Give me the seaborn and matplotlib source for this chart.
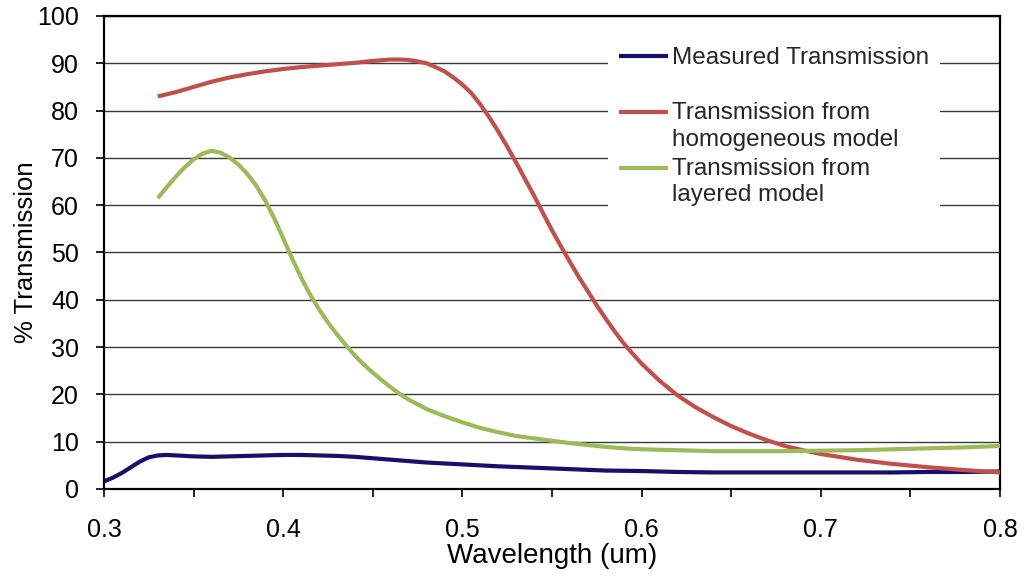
import numpy as np
import pandas as pd
import matplotlib
matplotlib.use("Agg")
import matplotlib.pyplot as plt
import seaborn as sns
from matplotlib.legend_handler import HandlerLine2D
from matplotlib.ticker import MultipleLocator

# ---- data ----
measured_x = [0.300, 0.305, 0.310, 0.315, 0.320, 0.325, 0.330, 0.335, 0.340, 0.350,
              0.360, 0.370, 0.380, 0.390, 0.400, 0.410, 0.420, 0.430, 0.440, 0.450,
              0.460, 0.470, 0.480, 0.490, 0.500, 0.520, 0.540, 0.560, 0.580, 0.600,
              0.620, 0.640, 0.660, 0.680, 0.700, 0.720, 0.740, 0.760, 0.780, 0.800]
measured_y = [1.6, 2.4, 3.4, 4.6, 5.8, 6.7, 7.1, 7.2, 7.1, 6.9,
              6.8, 6.9, 7.0, 7.1, 7.2, 7.2, 7.1, 7.0, 6.8, 6.5,
              6.2, 5.9, 5.6, 5.4, 5.2, 4.8, 4.5, 4.2, 3.9, 3.8,
              3.6, 3.5, 3.5, 3.5, 3.5, 3.5, 3.5, 3.6, 3.6, 3.7]

homog_x = [0.330, 0.340, 0.350, 0.360, 0.370, 0.380, 0.390, 0.400, 0.410, 0.420,
           0.430, 0.440, 0.450, 0.460, 0.465, 0.470, 0.475, 0.480, 0.485, 0.490,
           0.495, 0.500, 0.505, 0.510, 0.515, 0.520, 0.525, 0.530, 0.535, 0.540,
           0.545, 0.550, 0.555, 0.560, 0.565, 0.570, 0.575, 0.580, 0.585, 0.590,
           0.595, 0.600, 0.610, 0.620, 0.630, 0.640, 0.650, 0.660, 0.670, 0.680,
           0.690, 0.700, 0.710, 0.720, 0.740, 0.760, 0.780, 0.800]
homog_y = [83.0, 83.9, 85.0, 86.1, 87.0, 87.7, 88.3, 88.8, 89.2, 89.5,
           89.8, 90.1, 90.5, 90.8, 90.8, 90.7, 90.4, 90.0, 89.2, 88.3,
           87.0, 85.5, 83.7, 81.3, 78.6, 75.6, 72.4, 69.0, 65.5, 62.0,
           58.3, 54.7, 51.3, 48.0, 44.8, 41.8, 38.8, 36.0, 33.3, 30.8,
           28.6, 26.5, 22.9, 19.8, 17.3, 15.2, 13.3, 11.7, 10.3, 9.1,
           8.2, 7.4, 6.8, 6.2, 5.3, 4.6, 4.0, 3.5]

layered_x = [0.330, 0.335, 0.340, 0.345, 0.350, 0.355, 0.360, 0.365, 0.370, 0.375,
             0.380, 0.385, 0.390, 0.395, 0.400, 0.405, 0.410, 0.415, 0.420, 0.425,
             0.430, 0.435, 0.440, 0.445, 0.450, 0.455, 0.460, 0.465, 0.470, 0.480,
             0.490, 0.500, 0.510, 0.520, 0.530, 0.540, 0.550, 0.560, 0.570, 0.580,
             0.590, 0.600, 0.620, 0.640, 0.660, 0.680, 0.700, 0.720, 0.740, 0.760,
             0.780, 0.800]
layered_y = [61.5, 63.8, 66.0, 68.0, 69.7, 70.9, 71.5, 71.1, 70.1, 68.6,
             66.6, 64.1, 61.0, 57.2, 53.0, 48.7, 44.7, 41.1, 38.0, 35.2,
             32.7, 30.4, 28.2, 26.3, 24.6, 23.0, 21.5, 20.1, 18.9, 16.9,
             15.4, 14.1, 12.9, 12.0, 11.2, 10.7, 10.2, 9.7, 9.3, 8.9,
             8.6, 8.4, 8.2, 8.0, 8.0, 8.0, 8.1, 8.2, 8.4, 8.6,
             8.8, 9.1]

labels = ["Measured Transmission\n",
          "Transmission from\nhomogeneous model",
          "Transmission from\nlayered model"]
colors = ["#16106B", "#C0504D", "#9BBB59"]

xticks = [0.3, 0.4, 0.5, 0.6, 0.7, 0.8]
yticks = list(range(0, 101, 10))

# ---- style ----
sns.set_theme(style="white")
plt.rcParams['font.family'] = ['Liberation Sans', 'DejaVu Sans']

fig = plt.figure(figsize=(10.24, 5.77), dpi=100)
ax = fig.add_axes([104 / 1024, 1 - 489 / 577, 896 / 1024, 473 / 577])

series = [(measured_x, measured_y), (homog_x, homog_y), (layered_x, layered_y)]
for (xs, ys), lab, col in zip(series, labels, colors):
    df = pd.DataFrame({"x": xs, "y": ys})
    sns.lineplot(data=df, x="x", y="y", ax=ax, color=col, lw=3.0,
                 label=lab, sort=False, estimator=None, zorder=3,
                 solid_joinstyle="round", solid_capstyle="butt")

ax.set_xlim(0.3, 0.8)
ax.set_ylim(0, 100)
ax.set_xticks(xticks)
ax.set_xticklabels([f"{v:.1f}" for v in xticks])
ax.xaxis.set_minor_locator(MultipleLocator(0.05))
ax.set_yticks(yticks)
ax.set_yticklabels([str(v) for v in yticks])

ax.grid(axis="y", color="#3a3a3a", lw=1.0, zorder=1)
ax.grid(axis="x", visible=False)
ax.set_axisbelow(True)

for sp in ax.spines.values():
    sp.set_visible(True)
    sp.set_color("black")
    sp.set_linewidth(1.6)

ax.tick_params(axis="both", which="both", direction="out", color="black",
               length=6, width=1.2, labelsize=18, labelcolor="black")
ax.tick_params(axis="x", which="both", bottom=True, pad=15)
ax.tick_params(axis="y", which="both", left=True, pad=12)

ax.set_xlabel("Wavelength (um)", fontsize=20, color="black")
ax.set_ylabel("% Transmission", fontsize=18.5, color="black")
ax.xaxis.set_label_coords(0.5, -(543 - 489) / 473)
ax.yaxis.set_label_coords(-(104 - 38) / 896, 0.5)


class TopLineHandler(HandlerLine2D):
    def __init__(self, shift, **kw):
        super().__init__(**kw)
        self.shift = shift

    def create_artists(self, legend, orig_handle, xdescent, ydescent, width,
                       height, fontsize, trans):
        arts = super().create_artists(legend, orig_handle, xdescent, ydescent,
                                      width, height, fontsize, trans)
        for a in arts:
            a.set_ydata(np.asarray(a.get_ydata()) + self.shift)
        return arts


handles, labs = ax.get_legend_handles_labels()
hm = {h: TopLineHandler(shift=10.5) for h in handles}
leg = ax.legend(handles, labs, loc="upper left",
                bbox_to_anchor=((608 - 104) / 896, (489 - 36) / 473),
                borderaxespad=0.0,
                fontsize=17.5, frameon=True, facecolor="white", edgecolor="none",
                framealpha=1.0, fancybox=False, handlelength=2.0, handletextpad=0.17,
                labelspacing=0.30, borderpad=0.45, handler_map=hm)
for t in leg.get_texts():
    t.set_linespacing(1.25)
for l in leg.get_lines():
    l.set_linewidth(3.0)

fig.savefig("out.png", dpi=100)
